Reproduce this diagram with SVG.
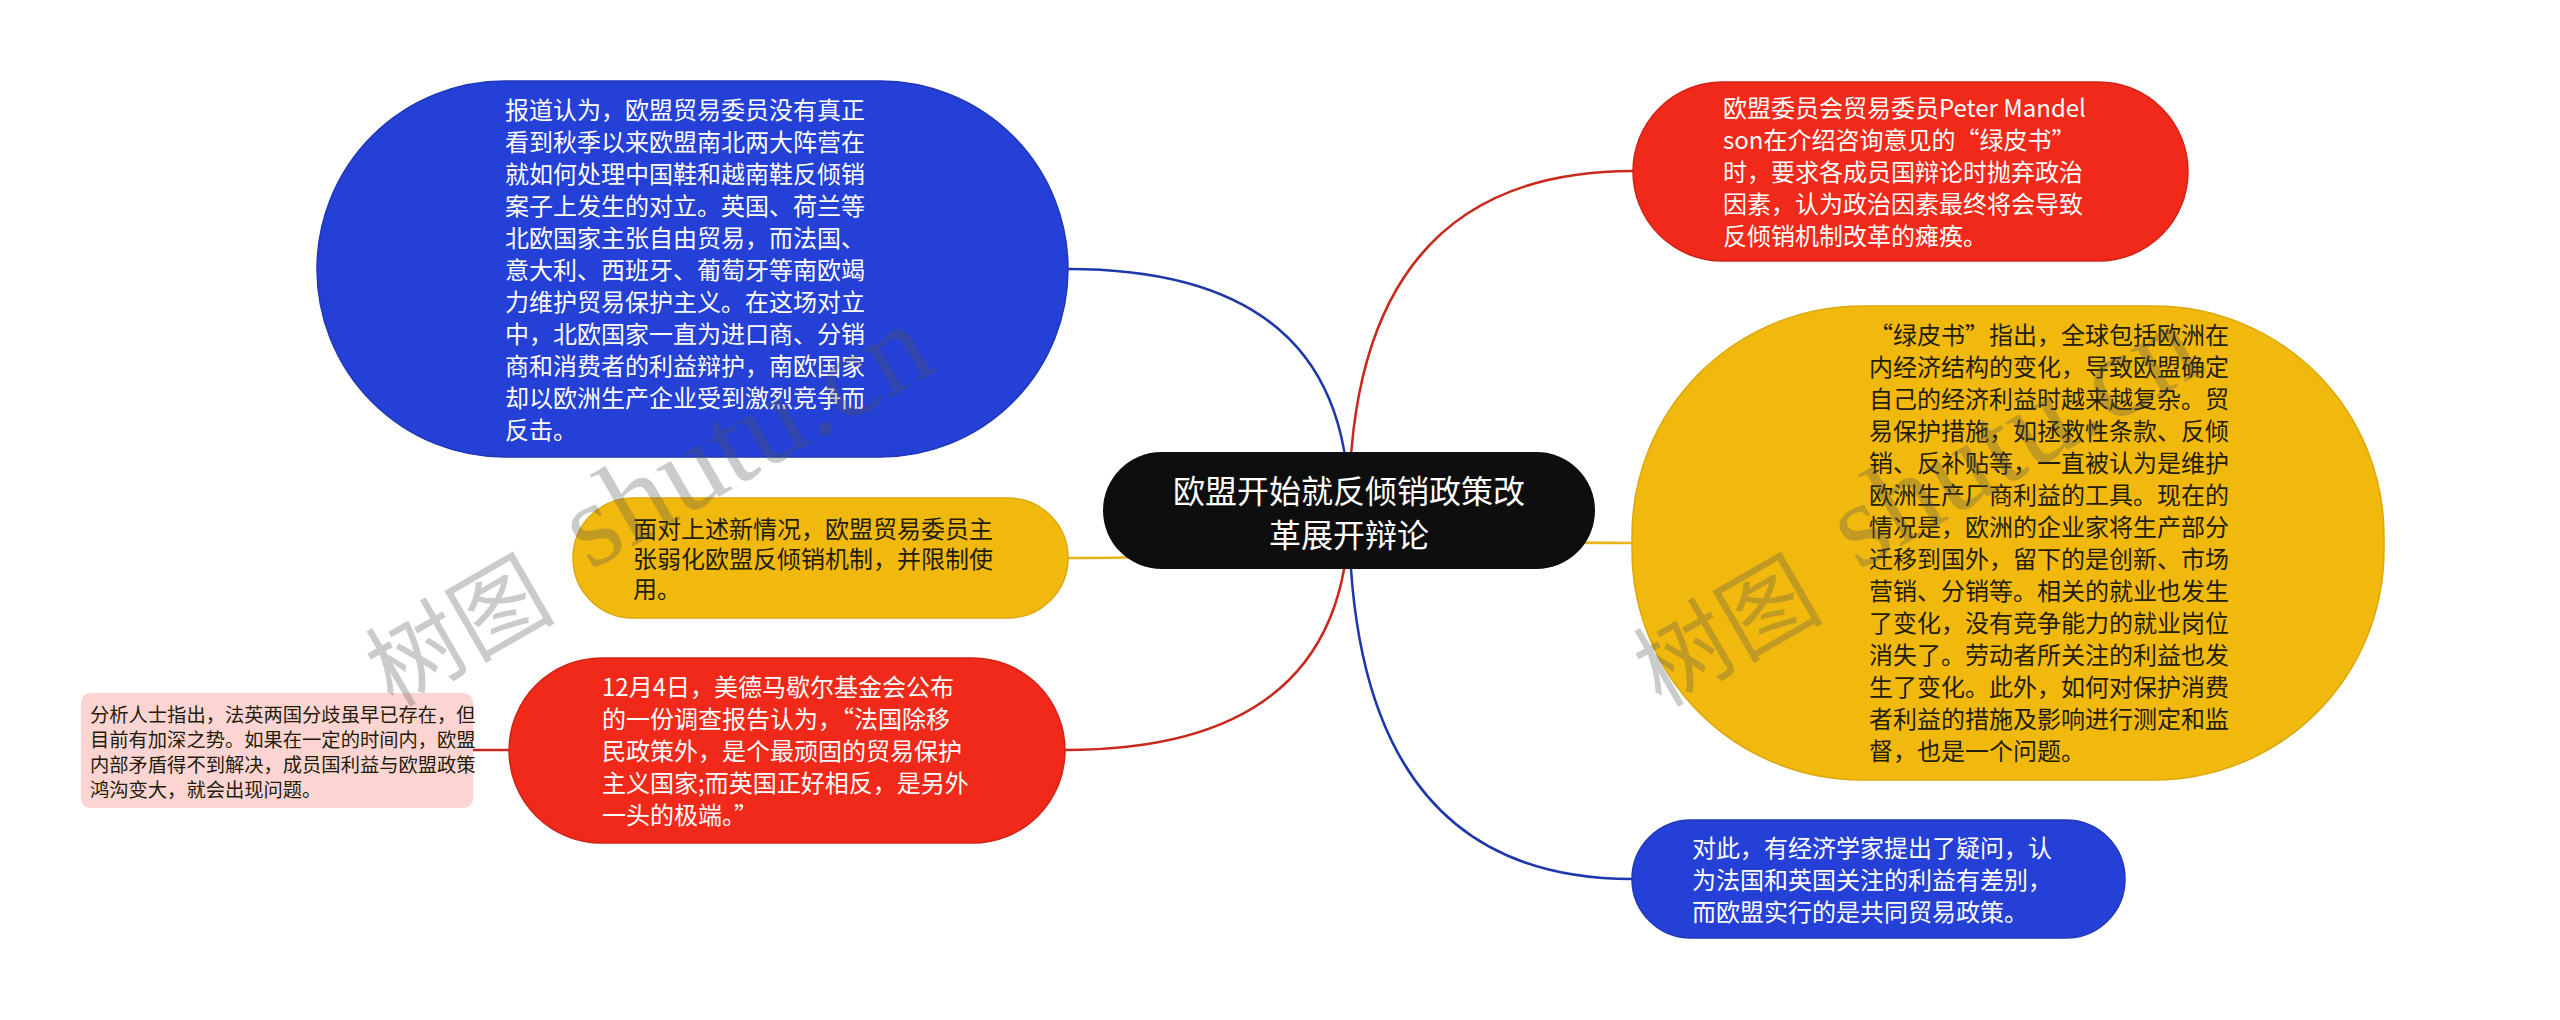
<svg xmlns="http://www.w3.org/2000/svg" width="2560" height="1020" viewBox="0 0 2560 1020">
<style>
.t{font-family:'Noto Sans CJK SC','Noto Sans',sans-serif;font-size:24px}
.w{fill:#ffffff}
.d{fill:#231c08}
.c{fill:none;stroke-width:2.5}
.blue{fill:#2440d6;stroke:#1f37b8;stroke-width:1.5}
.red{fill:#f0291a;stroke:#d02418;stroke-width:1.5}
.yel{fill:#f1b90e;stroke:#dba80c;stroke-width:1.5}
.wm{fill:#555555;opacity:0.3}
</style>
<rect width="2560" height="1020" fill="#ffffff"/>
<g id="connectors">
<path class="c" stroke="#1e38ab" d="M1349 510 Q1349 269 1068 269"/>
<path class="c" stroke="#e9b318" d="M1349 510 Q1349 558 1068 558"/>
<path class="c" stroke="#c9281d" d="M1349 510 Q1349 750 1065 750"/>
<path class="c" stroke="#c9281d" d="M473 750 H515"/>
<path class="c" stroke="#c9281d" d="M1349 510 Q1349 171 1633 171"/>
<path class="c" stroke="#e9b318" d="M1349 510 Q1349 543 1632 543"/>
<path class="c" stroke="#1e38ab" d="M1349 510 Q1349 879 1632 879"/>
</g>
<g id="node-center">
<rect x="1103" y="452" width="492" height="117" rx="58.5" fill="#0e0e0e"/>
<text class="w" font-family="'Noto Sans CJK SC','Noto Sans',sans-serif" font-size="32" text-anchor="middle"><tspan x="1349" y="503">欧盟开始就反倾销政策改</tspan><tspan x="1349" y="547">革展开辩论</tspan></text>
</g>
<g id="node-blue-tl">
<rect class="blue" x="317" y="81" width="751" height="376" rx="188"/>
<text class="t w"><tspan x="505" y="119">报道认为，欧盟贸易委员没有真正</tspan><tspan x="505" y="151">看到秋季以来欧盟南北两大阵营在</tspan><tspan x="505" y="183">就如何处理中国鞋和越南鞋反倾销</tspan><tspan x="505" y="215">案子上发生的对立。英国、荷兰等</tspan><tspan x="505" y="247">北欧国家主张自由贸易，而法国、</tspan><tspan x="505" y="279">意大利、西班牙、葡萄牙等南欧竭</tspan><tspan x="505" y="311">力维护贸易保护主义。在这场对立</tspan><tspan x="505" y="343">中，北欧国家一直为进口商、分销</tspan><tspan x="505" y="375">商和消费者的利益辩护，南欧国家</tspan><tspan x="505" y="407">却以欧洲生产企业受到激烈竞争而</tspan><tspan x="505" y="439">反击。</tspan></text>
</g>
<g id="node-yellow-l">
<rect class="yel" x="573" y="498" width="495" height="120" rx="60"/>
<text class="t d"><tspan x="633" y="538">面对上述新情况，欧盟贸易委员主</tspan><tspan x="633" y="568">张弱化欧盟反倾销机制，并限制使</tspan><tspan x="633" y="598">用。</tspan></text>
</g>
<g id="node-red-l">
<rect class="red" x="509" y="658" width="556" height="185" rx="92.5"/>
<text class="t w"><tspan x="602" y="696">12月4日，美德马歇尔基金会公布</tspan><tspan x="602" y="728">的一份调查报告认为，“法国除移</tspan><tspan x="602" y="760">民政策外，是个最顽固的贸易保护</tspan><tspan x="602" y="792">主义国家;而英国正好相反，是另外</tspan><tspan x="602" y="824">一头的极端。”</tspan></text>
</g>
<g id="node-pink">
<rect x="81" y="693" width="392" height="115" rx="9" fill="#fcd5d3"/>
<text class="d" font-family="'Noto Sans CJK SC','Noto Sans',sans-serif" font-size="19.3"><tspan x="90" y="722">分析人士指出，法英两国分歧虽早已存在，但</tspan><tspan x="90" y="747">目前有加深之势。如果在一定的时间内，欧盟</tspan><tspan x="90" y="772">内部矛盾得不到解决，成员国利益与欧盟政策</tspan><tspan x="90" y="797">鸿沟变大，就会出现问题。</tspan></text>
</g>
<g id="node-red-tr">
<rect class="red" x="1633" y="82" width="555" height="179" rx="89.5"/>
<text class="t w"><tspan x="1723" y="117">欧盟委员会贸易委员Peter Mandel</tspan><tspan x="1723" y="149">son在介绍咨询意见的“绿皮书”</tspan><tspan x="1723" y="181">时，要求各成员国辩论时抛弃政治</tspan><tspan x="1723" y="213">因素，认为政治因素最终将会导致</tspan><tspan x="1723" y="245">反倾销机制改革的瘫痪。</tspan></text>
</g>
<g id="node-yellow-r">
<rect class="yel" x="1632" y="306" width="752" height="474" rx="230"/>
<text class="t d"><tspan x="1869" y="344">“绿皮书”指出，全球包括欧洲在</tspan><tspan x="1869" y="376">内经济结构的变化，导致欧盟确定</tspan><tspan x="1869" y="408">自己的经济利益时越来越复杂。贸</tspan><tspan x="1869" y="440">易保护措施，如拯救性条款、反倾</tspan><tspan x="1869" y="472">销、反补贴等，一直被认为是维护</tspan><tspan x="1869" y="504">欧洲生产厂商利益的工具。现在的</tspan><tspan x="1869" y="536">情况是，欧洲的企业家将生产部分</tspan><tspan x="1869" y="568">迁移到国外，留下的是创新、市场</tspan><tspan x="1869" y="600">营销、分销等。相关的就业也发生</tspan><tspan x="1869" y="632">了变化，没有竞争能力的就业岗位</tspan><tspan x="1869" y="664">消失了。劳动者所关注的利益也发</tspan><tspan x="1869" y="696">生了变化。此外，如何对保护消费</tspan><tspan x="1869" y="728">者利益的措施及影响进行测定和监</tspan><tspan x="1869" y="760">督，也是一个问题。</tspan></text>
</g>
<g id="node-blue-br">
<rect class="blue" x="1632" y="820" width="493" height="118" rx="59"/>
<text class="t w"><tspan x="1692" y="857">对此，有经济学家提出了疑问，认</tspan><tspan x="1692" y="889">为法国和英国关注的利益有差别，</tspan><tspan x="1692" y="921">而欧盟实行的是共同贸易政策。</tspan></text>
</g>
<g id="watermarks">
<g id="wm1">
<text class="wm" font-family="'Noto Sans CJK SC',sans-serif" font-size="95" transform="translate(393 708) rotate(-30)">树图</text>
<text class="wm" font-family="'Liberation Serif',serif" font-size="120" transform="translate(590 571) rotate(-30)">shutu.cn</text>
</g>
<use href="#wm1" transform="translate(1268 0)"/>
</g>
</svg>
